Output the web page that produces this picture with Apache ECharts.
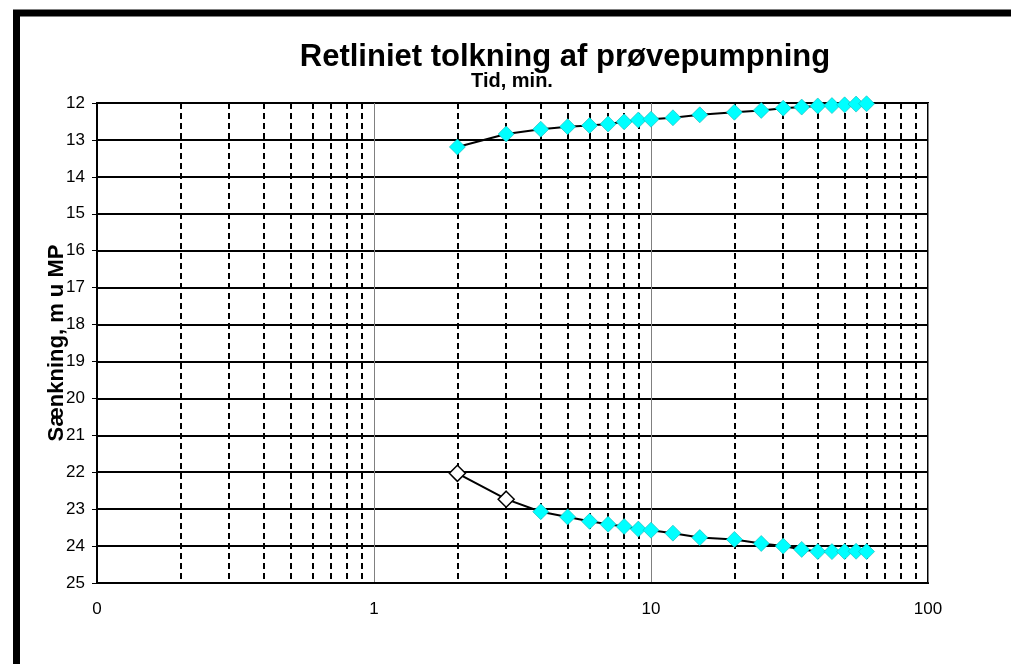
<!DOCTYPE html>
<html>
<head>
<meta charset="utf-8">
<title>Retliniet tolkning af prøvepumpning</title>
<script src="https://cdn.jsdelivr.net/npm/echarts@6/dist/echarts.min.js"></script>
<style>
  html, body { margin: 0; padding: 0; background: #fff; }
  #main { width: 1011px; height: 664px; }
</style>
</head>
<body>
<div id="main"></div>
<script>
// tid i minutter
var tid = [2, 3, 4, 5, 6, 7, 8, 9, 10, 12, 15, 20, 25, 30, 35, 40, 45, 50, 55, 60];
// stigning (øverste kurve), m u MP
var stigning = [13.19, 12.84, 12.71, 12.64, 12.61, 12.57, 12.51, 12.46, 12.44, 12.40,
                12.32, 12.25, 12.20, 12.14, 12.11, 12.08, 12.07, 12.05, 12.03, 12.02];
// sænkning (nederste kurve), m u MP
var saenkning = [22.03, 22.73, 23.07, 23.21, 23.33, 23.41, 23.47, 23.54, 23.57, 23.65,
                 23.77, 23.82, 23.93, 24.00, 24.09, 24.15, 24.15, 24.15, 24.14, 24.15];
// punkter der ikke er med i tolkningen (hule)
var udeladt = [0, 1];
// hjælpelinjer mellem dekaderne
var minorTicks = [0.2, 0.3, 0.4, 0.5, 0.6, 0.7, 0.8, 0.9,
                  2, 3, 4, 5, 6, 7, 8, 9,
                  20, 30, 40, 50, 60, 70, 80, 90];

var font = '"Liberation Sans", Arial, sans-serif';

function pairs(xs, ys, hollow) {
  var out = [];
  for (var i = 0; i < xs.length; i++) {
    var item = { value: [xs[i], ys[i]] };
    if (hollow && hollow.indexOf(i) >= 0) {
      item.itemStyle = { color: '#ffffff', borderColor: '#000000', borderWidth: 1.5 };
    }
    out.push(item);
  }
  return out;
}

var myChart = echarts.init(document.getElementById('main'));

var option = {
  animation: false,
  backgroundColor: '#ffffff',
  graphic: [
    {
      type: 'rect', silent: true, z: 100,
      shape: { x: 16.5, y: 13, width: 1200, height: 900 },
      style: { fill: 'none', stroke: '#000000', lineWidth: 7 }
    },
    {
      type: 'text', x: 565, y: 57,
      style: { text: 'Retliniet tolkning af prøvepumpning', font: 'bold 31px ' + font,
               fill: '#000', align: 'center', verticalAlign: 'middle' }
    },
    {
      type: 'text', x: 512, y: 81,
      style: { text: 'Tid, min.', font: 'bold 20px ' + font,
               fill: '#000', align: 'center', verticalAlign: 'middle' }
    },
    {
      type: 'text', x: 57, y: 343, rotation: Math.PI / 2,
      style: { text: 'Sænkning, m u MP', font: 'bold 22px ' + font,
               fill: '#000', align: 'center', verticalAlign: 'middle' }
    }
  ],
  grid: {
    left: 97, right: 83, top: 103, bottom: 81,
    show: true, borderColor: '#000', borderWidth: 2, backgroundColor: 'transparent'
  },
  xAxis: {
    type: 'log', logBase: 10, min: 0.1, max: 100,
    axisLine: { lineStyle: { color: '#000', width: 2 } },
    axisTick: { show: false },
    axisLabel: {
      color: '#000', fontSize: 17, fontFamily: font, margin: 18,
      formatter: function (v) { return v < 1 ? '0' : String(Math.round(v)); }
    },
    splitLine: { show: true, lineStyle: { color: '#808080', width: 1 } },
    minorTick: { show: false },
    minorSplitLine: { show: false }
  },
  yAxis: {
    type: 'value', inverse: true, min: 12, max: 25, interval: 1,
    axisLine: { show: true, lineStyle: { color: '#000', width: 2 } },
    axisTick: { show: true, length: 5, lineStyle: { color: '#000', width: 1 } },
    axisLabel: { color: '#000', fontSize: 17, fontFamily: font, margin: 12 },
    splitLine: { show: true, lineStyle: { color: '#000', width: 2 } }
  },
  series: [
    {
      name: 'Stigning',
      type: 'line',
      data: pairs(tid, stigning),
      symbol: 'diamond', symbolSize: 16,
      lineStyle: { color: '#000', width: 2 },
      itemStyle: { color: '#00ffff', borderColor: '#14b4b4', borderWidth: 0.6 },
      z: 5,
      markLine: {
        silent: true, symbol: 'none', animation: false,
        label: { show: false },
        lineStyle: { color: '#000', width: 2, type: [6, 4] },
        data: minorTicks.map(function (t) { return { xAxis: t }; })
      }
    },
    {
      name: 'Sænkning',
      type: 'line',
      data: pairs(tid, saenkning, udeladt),
      symbol: 'diamond', symbolSize: 16,
      lineStyle: { color: '#000', width: 2 },
      itemStyle: { color: '#00ffff', borderColor: '#14b4b4', borderWidth: 0.6 },
      z: 5
    }
  ]
};

myChart.setOption(option);
</script>
</body>
</html>
